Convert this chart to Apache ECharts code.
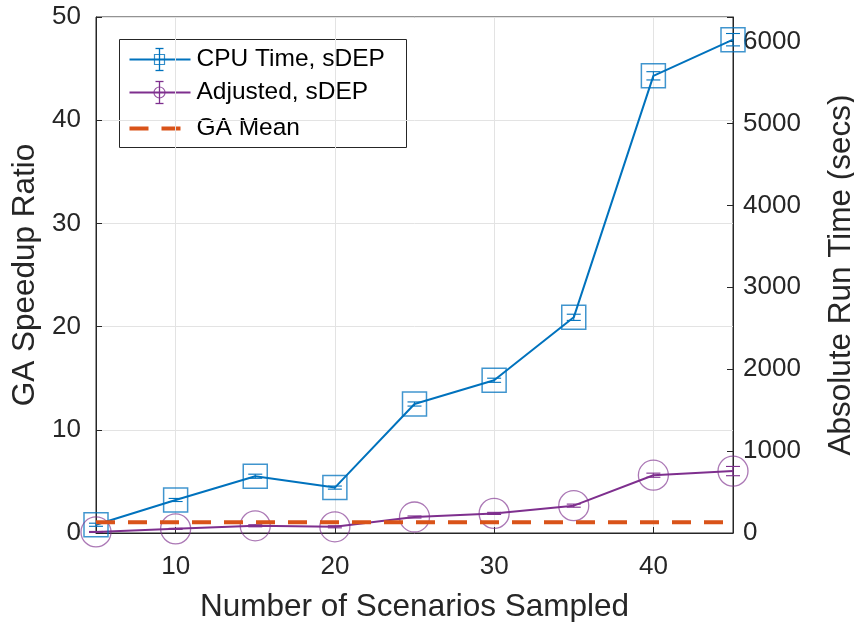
<!DOCTYPE html>
<html>
<head>
<meta charset="utf-8">
<script src="https://cdn.jsdelivr.net/npm/echarts@6/dist/echarts.min.js"></script>
<style>
  html, body { margin: 0; padding: 0; background: #ffffff; }
  #chart { width: 854px; height: 622px; }
</style>
</head>
<body>
<div id="chart"></div>
<script>
// Number of scenarios sampled (x values)
const scenarios = [5, 10, 15, 20, 25, 30, 35, 40, 45];
// GA speedup ratio, CPU time basis (sDEP)
const cpuTime = [0.8, 3.2, 5.5, 4.4, 12.5, 14.8, 20.9, 44.3, 47.8];
const cpuErr = [0.15, 0.15, 0.2, 0.15, 0.2, 0.2, 0.3, 0.4, 0.6];
// GA speedup ratio, adjusted (sDEP)
const adjusted = [0.1, 0.4, 0.7, 0.6, 1.55, 1.9, 2.65, 5.6, 6.0];
const adjErr = [0.05, 0.05, 0.1, 0.1, 0.1, 0.1, 0.15, 0.2, 0.45];
// GA mean reference level
const gaMean = 1.05;
// Axis ranges
const xRange = [5, 45];
const leftRange = [0, 50];
const rightRange = [0, 6300];

const FONT = '"Liberation Sans", Arial, Helvetica, sans-serif';
const AX = '#262626';
const BLUE = '#0072BD';
const PURPLE = '#7E2F8E';
const ORANGE = '#D95319';
const TITLE_SIZE = 31.5;

function errorBars(values, errs, color) {
  return {
    type: 'custom',
    z: 4,
    silent: true,
    data: scenarios.map((x, i) => [x, values[i] - errs[i], values[i] + errs[i]]),
    renderItem: function (params, api) {
      const x = api.value(0);
      const lo = api.coord([x, api.value(1)]);
      const hi = api.coord([x, api.value(2)]);
      const hw = 7;
      const style = { stroke: color, lineWidth: 1.1, fill: 'none' };
      return {
        type: 'group',
        children: [
          { type: 'line', shape: { x1: lo[0], y1: lo[1], x2: hi[0], y2: hi[1] }, style: style },
          { type: 'line', shape: { x1: lo[0] - hw, y1: lo[1], x2: lo[0] + hw, y2: lo[1] }, style: style },
          { type: 'line', shape: { x1: hi[0] - hw, y1: hi[1], x2: hi[0] + hw, y2: hi[1] }, style: style }
        ]
      };
    }
  };
}

const chart = echarts.init(document.getElementById('chart'), null, { renderer: 'canvas' });

// Legend box drawn with graphic primitives
const legendLeft = 119, legendTop = 39;
const rowY = [20, 53, 89];
const legendGraphics = {
  type: 'group',
  left: legendLeft,
  top: legendTop,
  z: 100,
  children: [
    { type: 'rect', shape: { x: 0, y: 0, width: 287, height: 108 },
      style: { fill: '#ffffff', stroke: AX, lineWidth: 1 } },
    // CPU time sample
    { type: 'line', shape: { x1: 10, y1: rowY[0], x2: 71, y2: rowY[0] }, style: { stroke: BLUE, lineWidth: 2 } },
    { type: 'line', shape: { x1: 40, y1: rowY[0] - 11, x2: 40, y2: rowY[0] + 11 }, style: { stroke: BLUE, lineWidth: 1.3 } },
    { type: 'line', shape: { x1: 36, y1: rowY[0] - 11, x2: 44, y2: rowY[0] - 11 }, style: { stroke: BLUE, lineWidth: 1.3 } },
    { type: 'line', shape: { x1: 36, y1: rowY[0] + 11, x2: 44, y2: rowY[0] + 11 }, style: { stroke: BLUE, lineWidth: 1.3 } },
    { type: 'rect', shape: { x: 35, y: rowY[0] - 5, width: 10, height: 10 }, style: { fill: 'none', stroke: 'rgba(0,114,189,0.8)', lineWidth: 1.2 } },
    { type: 'text', style: { x: 77, y: rowY[0], text: 'CPU Time, sDEP', font: '24.5px ' + FONT, fill: '#000000', verticalAlign: 'middle' } },
    // Adjusted sample
    { type: 'line', shape: { x1: 10, y1: rowY[1], x2: 71, y2: rowY[1] }, style: { stroke: PURPLE, lineWidth: 2 } },
    { type: 'line', shape: { x1: 40, y1: rowY[1] - 11, x2: 40, y2: rowY[1] + 11 }, style: { stroke: PURPLE, lineWidth: 1.3 } },
    { type: 'line', shape: { x1: 36, y1: rowY[1] - 11, x2: 44, y2: rowY[1] - 11 }, style: { stroke: PURPLE, lineWidth: 1.3 } },
    { type: 'line', shape: { x1: 36, y1: rowY[1] + 11, x2: 44, y2: rowY[1] + 11 }, style: { stroke: PURPLE, lineWidth: 1.3 } },
    { type: 'circle', shape: { cx: 40, cy: rowY[1], r: 5.5 }, style: { fill: 'none', stroke: 'rgba(126,47,142,0.8)', lineWidth: 1.2 } },
    { type: 'text', style: { x: 77, y: rowY[1], text: 'Adjusted, sDEP', font: '24.5px ' + FONT, fill: '#000000', verticalAlign: 'middle' } },
    // GA mean sample
    { type: 'line', shape: { x1: 10, y1: rowY[2], x2: 71, y2: rowY[2] }, style: { stroke: ORANGE, lineWidth: 4, lineDash: [19, 13] } },
    { type: 'text', style: { x: 77, y: rowY[2], text: 'GA Mean', font: '24.5px ' + FONT, fill: '#000000', verticalAlign: 'middle' } }
  ]
};

const option = {
  backgroundColor: '#ffffff',
  animation: false,
  textStyle: { fontFamily: FONT },
  grid: {
    left: 96, right: 121, top: 17, bottom: 89,
    containLabel: false,
    outerBoundsMode: 'none',
    show: true, borderColor: AX, borderWidth: 1, backgroundColor: '#ffffff'
  },
  xAxis: {
    type: 'value',
    min: xRange[0], max: xRange[1],
    splitNumber: 4,
    name: 'Number of Scenarios Sampled',
    nameLocation: 'middle',
    nameGap: 58,
    nameTextStyle: { fontSize: TITLE_SIZE, color: AX, fontFamily: FONT },
    axisLine: { show: true, lineStyle: { color: AX, width: 1 } },
    axisTick: { show: true, inside: true, length: 6, lineStyle: { color: AX } },
    axisLabel: {
      fontSize: 26, color: AX, margin: 21, fontFamily: FONT,
      formatter: v => (v % 10 === 0 ? String(v) : '')
    },
    splitLine: { show: true, lineStyle: { color: '#e3e3e3', width: 1 } }
  },
  yAxis: [
    {
      type: 'value',
      min: leftRange[0], max: leftRange[1], interval: 10,
      position: 'left',
      name: 'GA Speedup Ratio',
      nameLocation: 'middle',
      nameGap: 40,
      nameTextStyle: { fontSize: TITLE_SIZE, color: AX, fontFamily: FONT },
      axisLine: { show: true, lineStyle: { color: AX, width: 1 } },
      axisTick: { show: true, inside: true, length: 6, lineStyle: { color: AX } },
      axisLabel: { fontSize: 26, color: AX, margin: 15, fontFamily: FONT },
      splitLine: { show: true, lineStyle: { color: '#e3e3e3', width: 1 } }
    },
    {
      type: 'value',
      min: rightRange[0], max: rightRange[1], interval: 1000,
      position: 'right',
      name: 'Absolute Run Time (secs)',
      nameLocation: 'middle',
      nameGap: 92,
      nameRotate: 90,
      nameTextStyle: { fontSize: TITLE_SIZE, color: AX, fontFamily: FONT },
      axisLine: { show: true, lineStyle: { color: AX, width: 1 } },
      axisTick: { show: true, inside: true, length: 6, lineStyle: { color: AX } },
      axisLabel: {
        fontSize: 26, color: AX, margin: 10, fontFamily: FONT,
        formatter: v => (v % 1000 === 0 ? String(v) : '')
      },
      splitLine: { show: false }
    }
  ],
  graphic: [legendGraphics],
  series: [
    {
      name: 'CPU Time, sDEP',
      type: 'line',
      yAxisIndex: 0,
      data: scenarios.map((x, i) => [x, cpuTime[i]]),
      symbol: 'rect',
      symbolSize: 24,
      lineStyle: { color: BLUE, width: 2 },
      itemStyle: { color: 'rgba(0,0,0,0)', borderColor: 'rgba(0,114,189,0.75)', borderWidth: 1.5 },
      z: 3,
      clip: false
    },
    errorBars(cpuTime, cpuErr, BLUE),
    {
      name: 'Adjusted, sDEP',
      type: 'line',
      yAxisIndex: 0,
      data: scenarios.map((x, i) => [x, adjusted[i]]),
      symbol: 'circle',
      symbolSize: 30,
      lineStyle: { color: PURPLE, width: 2 },
      itemStyle: { color: 'rgba(0,0,0,0)', borderColor: 'rgba(126,47,142,0.65)', borderWidth: 1.3 },
      z: 3,
      clip: false
    },
    errorBars(adjusted, adjErr, PURPLE),
    {
      name: 'GA Mean',
      type: 'line',
      yAxisIndex: 0,
      data: [[xRange[0], gaMean], [xRange[1], gaMean]],
      symbol: 'none',
      lineStyle: { color: ORANGE, width: 4, type: [19, 13] },
      z: 5
    }
  ]
};

chart.setOption(option);
</script>
</body>
</html>
